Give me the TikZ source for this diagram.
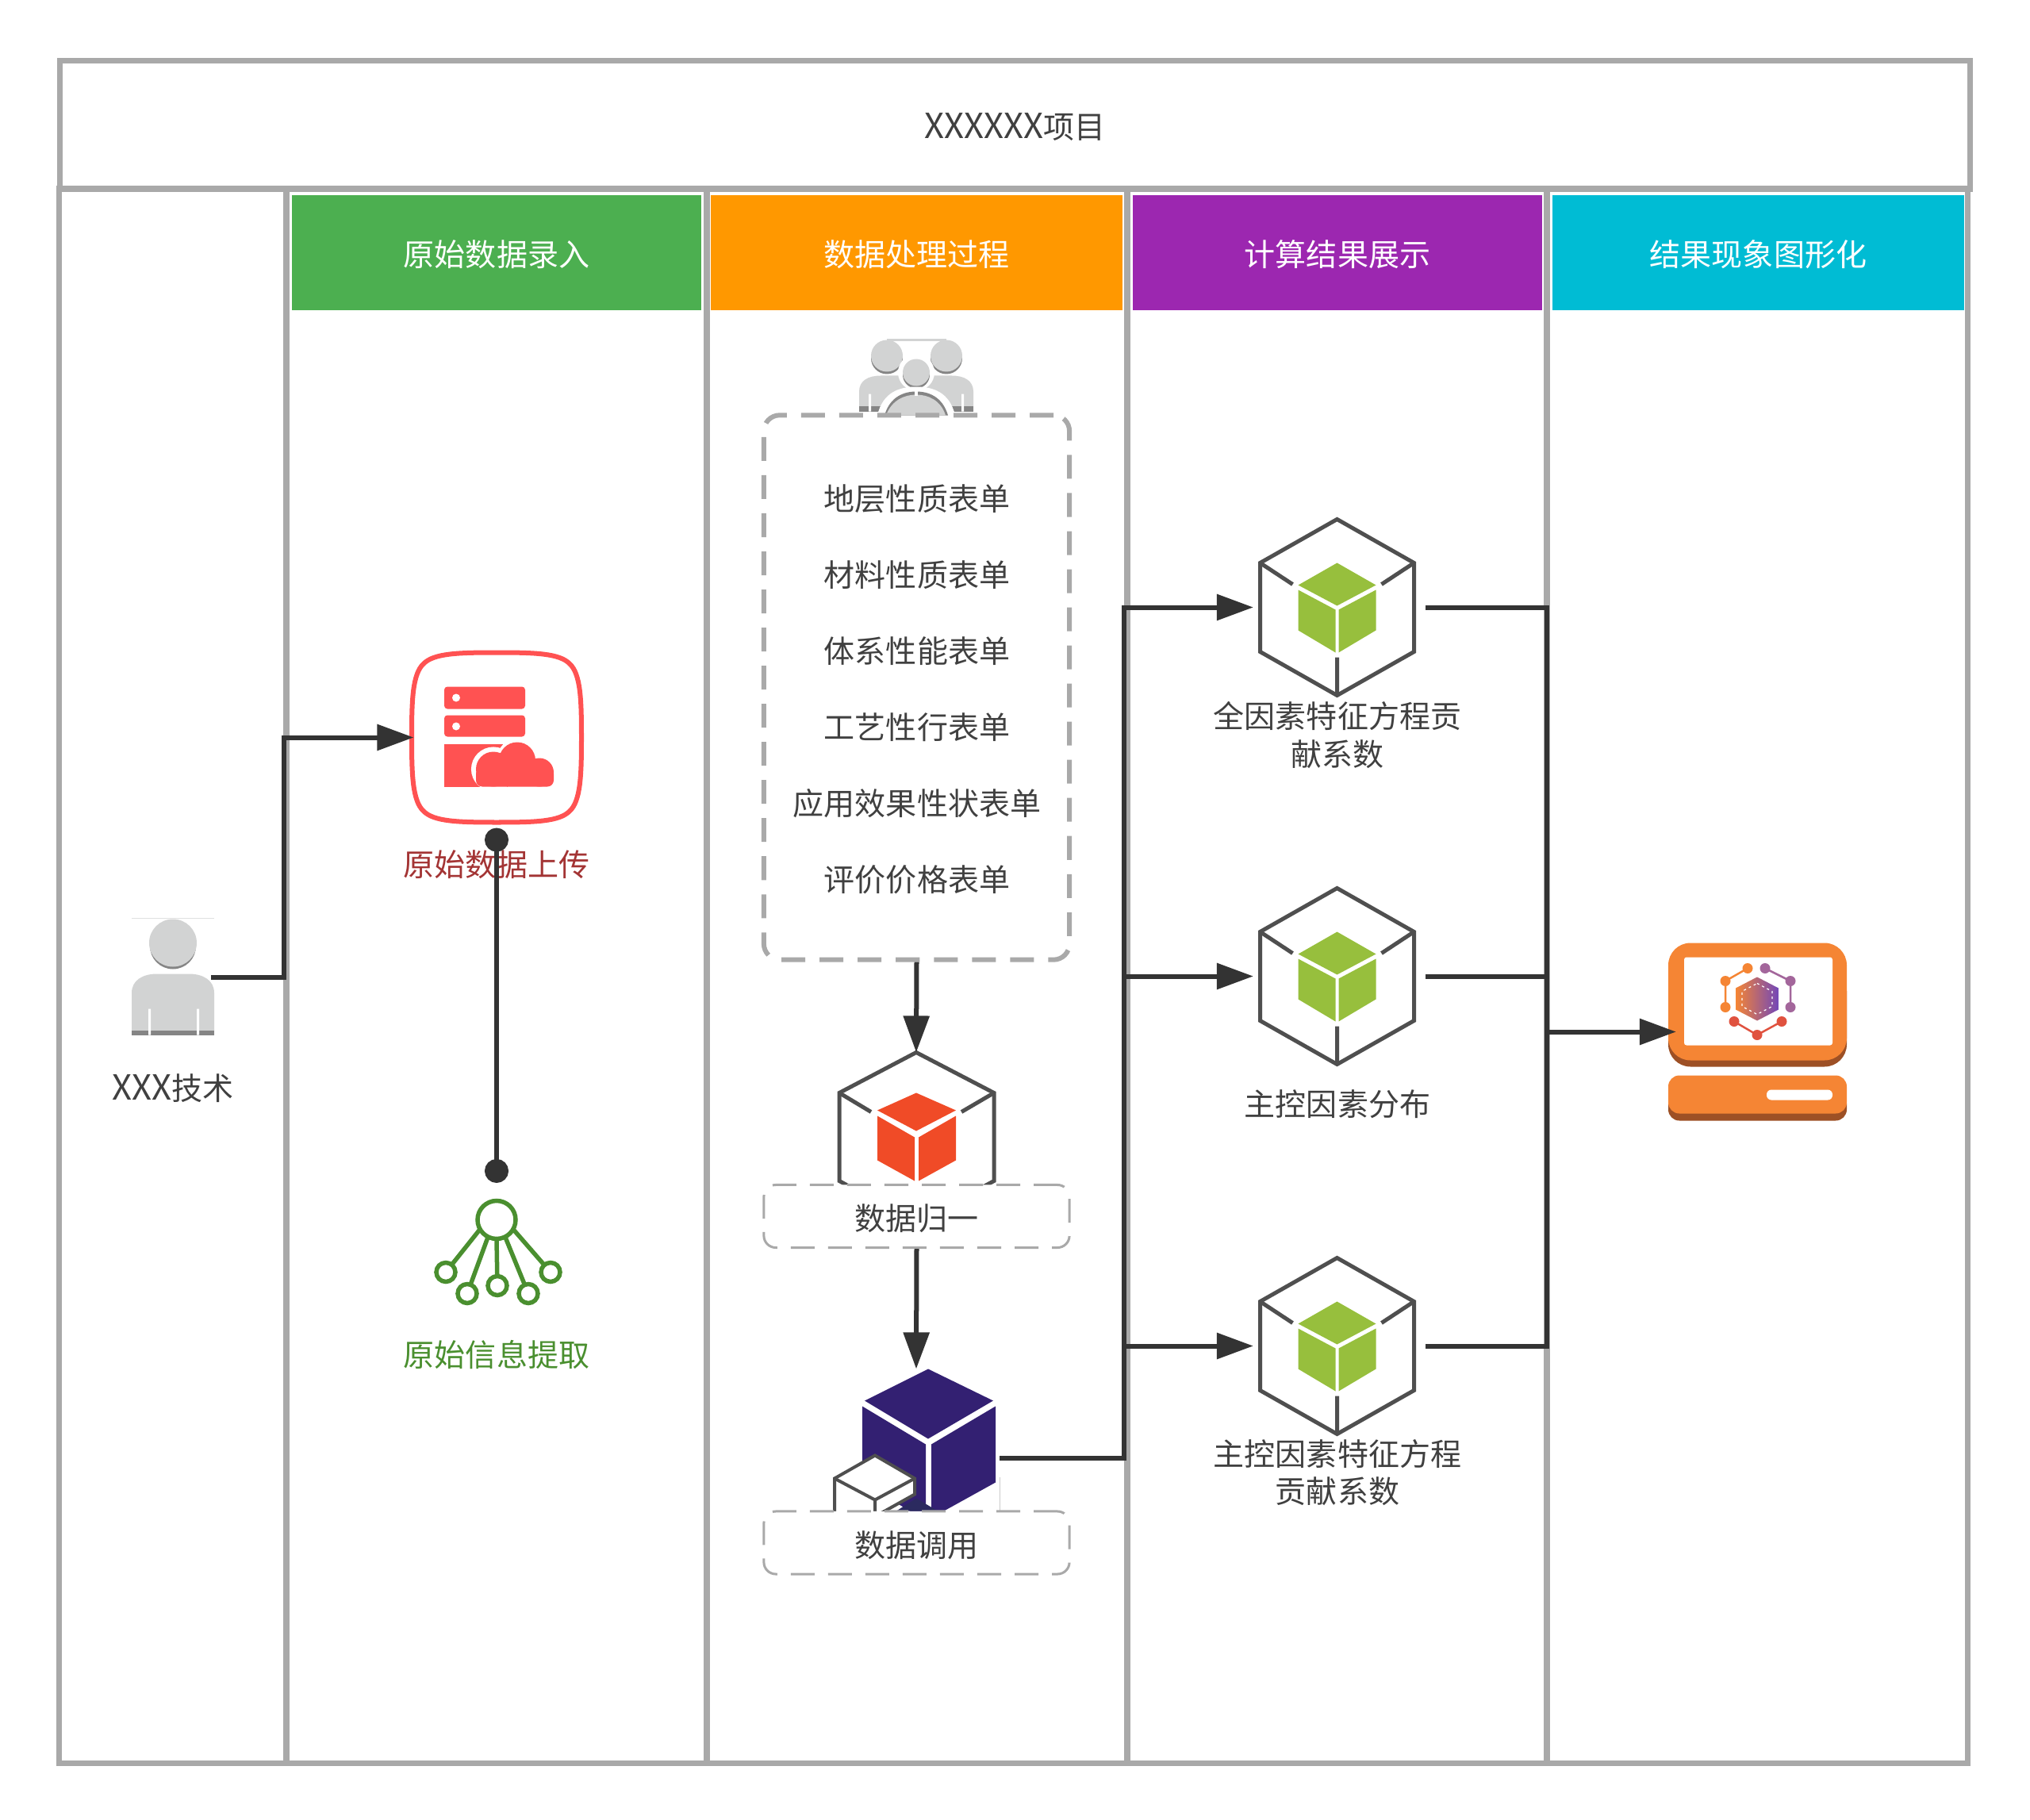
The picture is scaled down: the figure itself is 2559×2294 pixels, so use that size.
\documentclass[tikz,border=0pt]{standalone}
\usepackage{fontspec}
\setmainfont{Noto Sans CJK SC}
\usepackage{xcolor}
\usetikzlibrary{arrows.meta,shapes.geometric}
\definecolor{lanegray}{HTML}{A9A9A9}
\definecolor{linedark}{HTML}{333333}
\definecolor{textdark}{HTML}{404040}
\definecolor{icongray}{HTML}{D2D3D3}
\definecolor{iconshade}{HTML}{858585}
\definecolor{cubeline}{HTML}{4F4F4F}
\definecolor{upred}{HTML}{FF5252}
\definecolor{upbrown}{HTML}{A33434}
\definecolor{exgreen}{HTML}{4A8F2F}
\definecolor{pcorange}{HTML}{F58534}
\definecolor{pcbrown}{HTML}{9D5025}
\definecolor{molpurple}{HTML}{A3669B}
\definecolor{molred}{HTML}{E0523F}
\definecolor{cubegreen}{HTML}{97BF3D}
\definecolor{cubered}{HTML}{F04B27}
\definecolor{cubepurple}{HTML}{332072}
\definecolor{cubenavy}{HTML}{2B2A5F}
\definecolor{headgreen}{HTML}{4CAF50}
\definecolor{headorange}{HTML}{FF9800}
\definecolor{headpurple}{HTML}{9C27B0}
\definecolor{headteal}{HTML}{00BCD4}
\newcommand{\bigx}[1]{{\fontsize{12.4}{13.4}\selectfont #1}}
\tikzstyle{lane} = [draw=lanegray, line width=0.07cm, rectangle, inner sep=0pt, outer sep=0pt, minimum height=19.83cm]
\tikzstyle{header} = [rectangle, text=white, inner sep=0pt, minimum width=5.16cm, minimum height=1.44cm, text height=0.38cm, text depth=0.05cm]
\tikzstyle{label} = [text=textdark, align=center, inner sep=0pt]
\tikzstyle{iconbox} = [rectangle, inner sep=0pt, outer sep=0pt]
\tikzstyle{tagbox} = [draw=lanegray, line width=0.03cm, fill=white, rectangle, rounded corners=0.15cm,
    dash pattern=on 0.30cm off 0.17cm, minimum width=3.85cm, minimum height=0.79cm, inner sep=0pt, text=textdark,
    text height=0.40cm, text depth=0.05cm]
\tikzstyle{arrow} = [draw=linedark, line width=0.06cm, -{Triangle[length=0.46cm,width=0.32cm]}]
\tikzstyle{plain} = [draw=linedark, line width=0.06cm]
\tikzstyle{dotted line} = [draw=linedark, line width=0.06cm, {Circle[length=0.30cm]}-{Circle[length=0.30cm]}]
\tikzset{
   greencube/.pic={
      \draw[cubeline, line width=0.05cm, line join=miter] (0,-111) -- (97,-56) -- (97,56) -- (0,111) -- (-97,56) -- (-97,-56) -- cycle;
      \draw[cubeline, line width=0.05cm] (-97,-56) -- (-56,-29) (97,-56) -- (56,-29) (0,111) -- (0,63);
      \fill[cubegreen] (0,-56) -- (49,-28) -- (0,-2) -- (-49,-28) -- cycle;
      \fill[cubegreen] (-49,-22) -- (-2,3) -- (-2,57) -- (-49,29) -- cycle;
      \fill[cubegreen] (49,-22) -- (2,3) -- (2,57) -- (49,29) -- cycle;
   }
}
\begin{document}
\begin{tikzpicture}[x=0.01cm,y=-0.01cm,font=\fontsize{11.1}{13.4}\selectfont]
\useasboundingbox (0,-1.5) rectangle (2559,2292.5);
% frame and lanes
\node [lane, minimum width=24.07cm, minimum height=1.62cm, text=textdark, text height=0.38cm, text depth=0.05cm] (title) at (1279.5,156) {\bigx{XXXXXX}项目};
\node [lane, minimum width=2.86cm] (lane0) at (218,1228.5) {};
\node [lane, minimum width=5.30cm] (lane1) at (626,1228.5) {};
\node [lane, minimum width=5.30cm] (lane2) at (1156,1228.5) {};
\node [lane, minimum width=5.29cm] (lane3) at (1685.5,1228.5) {};
\node [lane, minimum width=5.30cm] (lane4) at (2215,1228.5) {};
\node [header, fill=headgreen] (head1) at (626,317) {原始数据录入};
\node [header, fill=headorange, minimum width=5.19cm] (head2) at (1155.5,317) {数据处理过程};
\node [header, fill=headpurple] (head3) at (1686,317) {计算结果展示};
\node [header, fill=headteal, minimum width=5.19cm] (head4) at (2216.5,317) {结果现象图形化};

% person
\node [iconbox, minimum width=1.04cm, minimum height=1.47cm] (person) at (218,1230) {};
\draw[icongray!70, line width=0.01cm] (166,1156) -- (270,1156);
\fill[iconshade] (218,1191) circle (29);
\fill[icongray] (218,1187) circle (30);
\fill[icongray] (166,1303) -- (166,1250) .. controls (166,1234) and (180,1226) .. (198,1226) -- (238,1226) .. controls (256,1226) and (270,1234) .. (270,1250) -- (270,1303) -- cycle;
\fill[iconshade] (166,1297) rectangle (270,1303);
\fill[white] (187,1270) rectangle (190,1303) (248,1270) rectangle (251,1303);
\node [label] (personlabel) at (218,1370) {\bigx{XXX}技术};

% upload
\node [iconbox, minimum width=2.19cm, minimum height=2.20cm] (upload) at (626,928) {};
\draw[upred, line width=0.06cm, fill=white] (626,821) .. controls (675,821) and (705,822) .. (718,835) .. controls (732,848) and (733,880) .. (733,928)
   .. controls (733,976) and (732,1008) .. (718,1021) .. controls (705,1034) and (675,1035) .. (626,1035)
   .. controls (577,1035) and (547,1034) .. (534,1021) .. controls (520,1008) and (519,976) .. (519,928)
   .. controls (519,880) and (520,848) .. (534,835) .. controls (547,822) and (577,821) .. cycle;
\fill[upred, rounded corners=0.04cm] (560,864) rectangle (662,892) (560,900) rectangle (662,927);
\fill[white] (575,878) circle (5) (575,914) circle (5);
\fill[upred] (560,936) rectangle (640,990);
\draw[white, fill=white, line width=0.12cm] (622,968) circle (22) (655,957) circle (23);
\fill[upred] (622,968) circle (22) (652,957) circle (23) (680,972) circle (18);
\fill[upred, rounded corners=0.08cm] (600,966) rectangle (698,990);
\node [label, text=upbrown] (uploadlabel) at (626,1088) {原始数据上传};

% extract
\node [iconbox, minimum width=1.44cm, minimum height=1.35cm] (extract) at (626,1577) {};
\begin{scope}[exgreen, line width=0.055cm]
\foreach \px/\py/\bx/\by in {562/1602/605/1548, 589/1629/615/1558, 627/1619/626/1560, 666/1629/637/1558, 694/1602/647/1548}{
   \draw (\bx,\by) -- (\px,\py);
   \draw[fill=white] (\px,\py) circle (12);
}
\draw[fill=white] (626,1536) circle (24);
\end{scope}
\node [label, text=exgreen] (extractlabel) at (626,1706) {原始信息提取};

% group of people and forms
\node [iconbox, minimum width=1.44cm, minimum height=0.95cm] (group) at (1155,475) {};
\draw[icongray, line width=0.02cm] (1118,427) -- (1193,427);
\foreach \cx in {1118,1193}{
   \fill[iconshade] (\cx,450) circle (20);
   \fill[icongray] (\cx,447) circle (20);
}
\fill[icongray] (1083,517) -- (1083,492) .. controls (1083,478) and (1095,472) .. (1110,472) -- (1200,472) .. controls (1215,472) and (1227,478) .. (1227,492) -- (1227,517) -- cycle;
\fill[iconshade] (1083,510) rectangle (1227,517);
\fill[white] (1095,495) rectangle (1098,517) (1212,495) rectangle (1215,517);
\fill[white] (1155,468) circle (23);
\fill[iconshade] (1155,471) circle (17);
\fill[icongray] (1155,468) circle (17);
\fill[white] (1106,522) .. controls (1113,492) and (1135,486) .. (1155,486) .. controls (1175,486) and (1197,492) .. (1204,522) -- cycle;
\fill[iconshade] (1115,522) .. controls (1122,498) and (1140,492) .. (1155,492) .. controls (1170,492) and (1188,498) .. (1195,522) -- cycle;
\fill[icongray] (1117,522) .. controls (1124,503) and (1140,496) .. (1155,496) .. controls (1170,496) and (1186,503) .. (1192,522) -- cycle;
\fill[white] (1153,488) rectangle (1157,497);
\node [draw=lanegray, line width=0.06cm, rectangle, rounded corners=0.20cm, dash pattern=on 0.30cm off 0.18cm,
   minimum width=3.85cm, minimum height=6.86cm, inner sep=0pt] (forms) at (1155.5,865) {};
\foreach \nm/\yy/\txt in {form1/627/地层性质表单, form2/723/材料性质表单, form3/819/体系性能表单,
   form4/915/工艺性行表单, form5/1011/应用效果性状表单, form6/1107/评价价格表单}{
   \node [label] (\nm) at (1156,\yy) {\txt};
}

% normalise
\node [iconbox, minimum width=1.95cm, minimum height=1.50cm] (normal) at (1155,1400) {};
\draw[cubeline, line width=0.05cm] (1155,1325) -- (1253,1376) -- (1253,1487) -- (1155,1540) -- (1058,1487) -- (1058,1376) -- cycle;
\draw[cubeline, line width=0.05cm] (1058,1376) -- (1098,1400) (1253,1376) -- (1212,1400);
\fill[cubered] (1155,1376) -- (1205,1398) -- (1155,1424) -- (1106,1398) -- cycle;
\fill[cubered] (1106,1405) -- (1153,1432) -- (1153,1487) -- (1106,1461) -- cycle;
\fill[cubered] (1205,1405) -- (1158,1432) -- (1158,1487) -- (1205,1461) -- cycle;
\node [tagbox] (normaltag) at (1155.5,1531.5) {数据归一};

% data call
\node [iconbox, minimum width=2.10cm, minimum height=2.24cm] (call) at (1155,1836) {};
\fill[cubepurple] (1170,1724) -- (1252,1764) -- (1170,1812) -- (1090,1764) -- cycle;
\fill[cubepurple] (1087,1771) -- (1167,1819) -- (1167,1915) -- (1087,1867) -- cycle;
\fill[cubepurple] (1255,1771) -- (1174,1819) -- (1174,1905) -- (1190,1903) -- (1255,1867) -- cycle;
\draw[lanegray!60, line width=0.01cm] (1260,1860) -- (1260,1903);
\fill[cubenavy] (1155,1887) -- (1182,1903) -- (1130,1903) -- cycle;
\draw[cubeline, line width=0.04cm, fill=white] (1103,1833) -- (1153,1862) -- (1153,1882) -- (1103,1910) -- (1052,1910) -- (1052,1862) -- cycle;
\draw[cubeline, line width=0.04cm] (1052,1862) -- (1103,1889) -- (1153,1862) (1103,1889) -- (1103,1910);
\node [tagbox] (calltag) at (1155.5,1943) {数据调用};

% result cubes
\node [iconbox, minimum width=1.95cm, minimum height=2.22cm] (cubeA) at (1685.5,764) {};
\node [iconbox, minimum width=1.95cm, minimum height=2.22cm] (cubeB) at (1685.5,1229) {};
\node [iconbox, minimum width=1.95cm, minimum height=2.22cm] (cubeC) at (1685.5,1695) {};
\pic at (1685.5,764) {greencube};
\pic at (1685.5,1229) {greencube};
\pic at (1685.5,1695) {greencube};
\node [label] (cubeAlabel) at (1686,925) {全因素特征方程贡\\献系数};
\node [label] (cubeBlabel) at (1686,1390) {主控因素分布};
\node [label] (cubeClabel) at (1686,1855) {主控因素特征方程\\贡献系数};

% computer
\node [iconbox, minimum width=2.25cm, minimum height=2.24cm] (screen) at (2215.5,1299) {};
\fill[pcbrown, rounded corners=0.28cm] (2103,1220) rectangle (2328,1343);
\fill[pcorange, rounded corners=0.28cm] (2103,1187) rectangle (2328,1335);
\fill[white, rounded corners=0.03cm] (2123,1205) rectangle (2310,1316);
\fill[pcbrown, rounded corners=0.14cm] (2103,1375) rectangle (2328,1411);
\fill[pcorange, rounded corners=0.14cm] (2103,1354) rectangle (2328,1402);
\fill[white, rounded corners=0.06cm] (2227,1372) rectangle (2310,1385);
\draw[pcorange, line width=0.025cm] (2203,1219) -- (2175,1235) -- (2175,1268);
\draw[molpurple, line width=0.025cm] (2225,1219) -- (2257,1235) -- (2257,1268);
\draw[molred, line width=0.025cm] (2186,1286) -- (2215,1303) -- (2246,1286);
\fill[pcorange] (2203,1219) circle (6.5) (2175,1235) circle (6.5) (2175,1268) circle (6.5);
\fill[molpurple] (2225,1219) circle (6.5) (2257,1235) circle (6.5) (2257,1268) circle (6.5);
\fill[molred] (2186,1286) circle (6.5) (2246,1286) circle (6.5) (2215,1303) circle (6.5);
\shade[left color=pcorange, middle color=molred, right color=molpurple!70!blue] (2215,1230) -- (2242,1244) -- (2242,1271) -- (2215,1285) -- (2188,1271) -- (2188,1244) -- cycle;
\draw[white, line width=0.012cm, dash pattern=on 0.03cm off 0.04cm] (2215,1238) -- (2234,1248) -- (2234,1267) -- (2215,1277) -- (2196,1267) -- (2196,1248) -- cycle;

% connectors
\coordinate (turn1) at (358,1230);
\coordinate (turn2) at (358,928);
\coordinate (busA) at (1417,764);
\coordinate (busB) at (1417,1229);
\coordinate (busC) at (1417,1695);
\coordinate (outA) at (1950,764);
\coordinate (outB) at (1950,1229);
\coordinate (outC) at (1950,1695);
\coordinate (outD) at (1950,1299);
\draw[arrow, shorten <=-0.04cm, shorten >=-0.05cm] (person.east) -- (turn1) -- (turn2) -- (upload.west);
\draw[dotted line, shorten <=0.04cm, shorten >=0.20cm] (upload.south) -- (extract.north);
\draw[arrow] (forms.south) -- (normal.north);
\draw[arrow] (normaltag.south) -- (call.north);
\draw[arrow, shorten >=0.08cm] (call.east) -| (busA) -- (cubeA.west);
\draw[arrow, shorten >=0.08cm] (busB) -- (cubeB.west);
\draw[arrow, shorten >=0.08cm] (busC) -- (cubeC.west);
\draw[plain, shorten <=0.14cm, shorten >=0.14cm] (cubeA.east) -- (outA) -- (outC) -- (cubeC.east);
\draw[plain, shorten <=0.14cm] (cubeB.east) -- (outB);
\draw[arrow, shorten >=-0.10cm] (outD) -- (screen.west);
\end{tikzpicture}
\end{document}
